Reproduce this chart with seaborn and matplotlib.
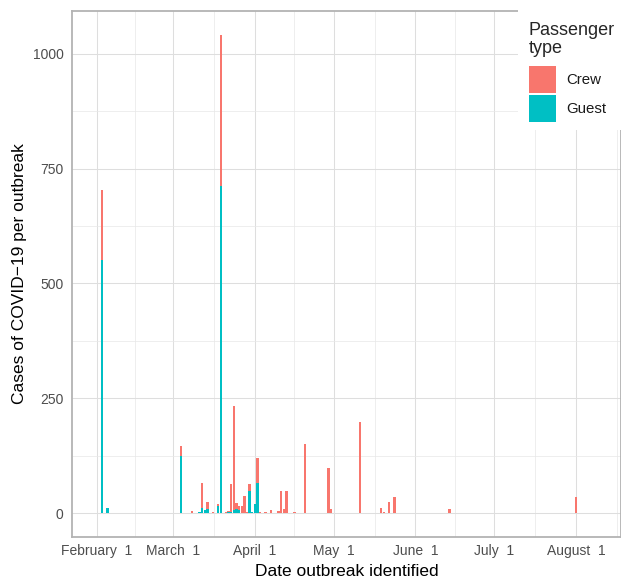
import numpy as np
import pandas as pd
import matplotlib
matplotlib.use("Agg")
import matplotlib.pyplot as plt
import matplotlib.dates as mdates
from matplotlib.patches import Rectangle
import seaborn as sns

# ---- data ----
dates = ["2020-02-03", "2020-02-05", "2020-03-04", "2020-03-08", "2020-03-09",
         "2020-03-11", "2020-03-12", "2020-03-13", "2020-03-14", "2020-03-16",
         "2020-03-18", "2020-03-19", "2020-03-21", "2020-03-22", "2020-03-23",
         "2020-03-24", "2020-03-25", "2020-03-26", "2020-03-27", "2020-03-28",
         "2020-03-29", "2020-03-30", "2020-03-31", "2020-04-01", "2020-04-02",
         "2020-04-03", "2020-04-05", "2020-04-07", "2020-04-10", "2020-04-11",
         "2020-04-12", "2020-04-13", "2020-04-16", "2020-04-20", "2020-04-29",
         "2020-04-30", "2020-05-11", "2020-05-19", "2020-05-20", "2020-05-22",
         "2020-05-24", "2020-06-14", "2020-08-01", "2020-08-04"]
crew = [153, 0, 22, 4, 0,
        0, 54, 0, 17, 3,
        5, 328, 3, 3, 61,
        226, 14, 8, 15, 37,
        3, 15, 1, 1, 54,
        1, 3, 6, 5, 48,
        9, 48, 3, 151, 98,
        8, 199, 11, 3, 25,
        34, 9, 35, 0]
guest = [551, 11, 124, 0, 1,
         2, 12, 7, 8, 0,
         15, 713, 0, 2, 3,
         7, 9, 7, 0, 0,
         0, 48, 2, 19, 66,
         1, 0, 0, 0, 0,
         0, 0, 0, 0, 0,
         0, 0, 0, 0, 0,
         0, 0, 1, 1]
types = ["Crew", "Guest"]
colors = ["#F8766D", "#00BFC4"]
month_ticks = ["2020-02-01", "2020-03-01", "2020-04-01", "2020-05-01",
               "2020-06-01", "2020-07-01", "2020-08-01"]
y_ticks = [0, 250, 500, 750, 1000]

# ---- build long table ----
dnum = mdates.date2num(pd.to_datetime(dates))
df = pd.DataFrame({
    "day": np.concatenate([dnum, dnum]),
    "cases": np.concatenate([crew, guest]),
    "type": ["Crew"] * len(dates) + ["Guest"] * len(dates),
})

W, H = 621, 579
fig = plt.figure(figsize=(W / 100, H / 100), dpi=100)
sns.set_style("white")
plt.rcParams["font.family"] = ["Liberation Sans", "DejaVu Sans"]

L, R, T, B = 72, 621, 11, 537
ax = fig.add_axes([L / W, 1 - B / H, (R - L) / W, (B - T) / H])

sns.histplot(data=df, x="day", weights="cases", hue="type", hue_order=types,
             palette=colors, multiple="stack", discrete=True, shrink=0.9,
             linewidth=0, alpha=1, legend=False, ax=ax, zorder=3)

feb1 = mdates.date2num(pd.Timestamp("2020-02-01"))
ax.set_xlim(feb1 - 9.5, feb1 + 199.1)
ax.set_ylim(-52, 1093)

mt = mdates.date2num(pd.to_datetime(month_ticks))
ax.set_xticks(mt)
ax.set_xticklabels([pd.Timestamp(m).strftime("%B") + "  1" for m in month_ticks])
mids = list((mt[:-1] + mt[1:]) / 2) + [mt[-1] + 15.5]
ax.set_xticks(mids, minor=True)
ax.set_yticks(y_ticks)
ax.set_yticklabels([str(v) for v in y_ticks])
ax.set_yticks([125, 375, 625, 875], minor=True)

ax.grid(which="major", color="#DEDEDE", linewidth=0.75, zorder=0)
ax.grid(which="minor", color="#E8E8E8", linewidth=0.5, zorder=0)
ax.set_axisbelow(True)
for s in ["top", "left", "bottom", "right"]:
    ax.spines[s].set_color("#B3B3B3")
    ax.spines[s].set_linewidth(1.3)
ax.tick_params(which="both", length=0)
ax.tick_params(axis="x", labelsize=10, colors="#4D4D4D", pad=5)
ax.tick_params(axis="y", labelsize=10, colors="#4D4D4D", pad=6)

ax.set_xlabel("Date outbreak identified", fontsize=12.5, color="black", labelpad=4)
ax.set_ylabel("Cases of COVID\u221219 per outbreak", fontsize=12.5, color="black", labelpad=4)

# ---- legend (top-right, over the panel) ----
def fx(x):
    return x / W

def fy(y):
    return 1 - y / H

fig.patches.append(Rectangle((fx(518), fy(130)), fx(621) - fx(518), fy(0) - fy(130),
                             transform=fig.transFigure, facecolor="white",
                             edgecolor="none", zorder=5))
fig.text(fx(529), fy(35), "Passenger", ha="left", va="baseline", fontsize=13, zorder=6)
fig.text(fx(529), fy(53), "type", ha="left", va="baseline", fontsize=13, zorder=6)
for i, (lab, c) in enumerate(zip(types, colors)):
    y0 = 66 + i * 29
    fig.patches.append(Rectangle((fx(529), fy(y0 + 27)), fx(27), fy(0) - fy(27),
                                 transform=fig.transFigure, facecolor=c,
                                 edgecolor="none", zorder=6))
    fig.text(fx(566), fy(y0 + 14), lab, ha="left", va="center", fontsize=10.8,
             color="#1A1A1A", zorder=6)

fig.savefig("out.png", dpi=100)
